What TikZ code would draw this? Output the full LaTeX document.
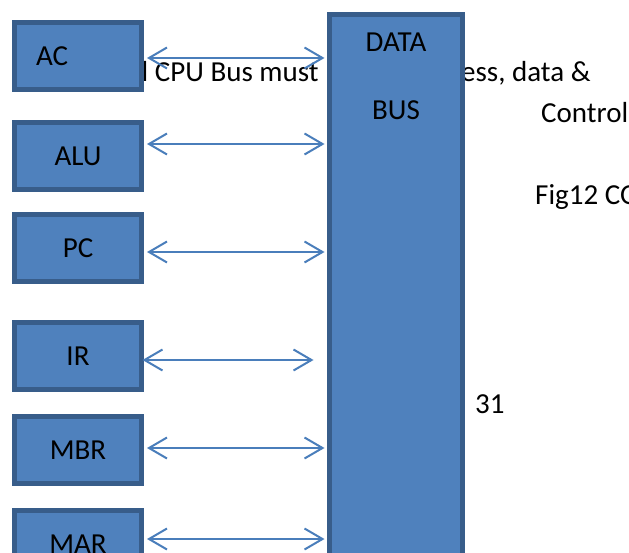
\documentclass[tikz,border=0pt]{standalone}
\usepackage{fontspec}
\setmainfont{Carlito}
\usetikzlibrary{arrows.meta,positioning,calc}
\definecolor{RegFill}{HTML}{4F81BD}
\definecolor{RegEdge}{HTML}{385D8A}
\definecolor{BusArrow}{HTML}{4A7EBB}

\begin{document}
\begin{tikzpicture}[x=1pt,y=-1pt,font=\fontsize{29}{35}\selectfont]
    \tikzset{regbox/.style={rectangle,fill=RegFill,draw=RegEdge,line width=5pt,inner sep=0pt,
      minimum width=127pt,minimum height=67pt,align=center},
      busbar/.style={rectangle,fill=RegFill,draw=RegEdge,line width=5pt,inner sep=0pt,
      minimum width=133pt,minimum height=620pt},
      busline/.style={{Straight Barb[length=18pt,width=21pt]}-{Straight Barb[length=18pt,width=21pt]},
      BusArrow,line width=2pt,shorten <=3pt,shorten >=2.5pt},
      note/.style={anchor=base west,inner sep=0pt}}
    \useasboundingbox (0,0) rectangle (629,553);
    \clip (0,0) rectangle (629,553);
    % text that sits behind the boxes
    \node[note] (t1) at (141.5,82) {l CPU Bus must};
    \node[note] (t2) at (461,82) {ess, data \&};
    \node[note] (t3) at (541,123) {Control};
    \node[note] (t4) at (535,205) {Fig12 CO};
    \node[note] (t5) at (475,413) {31};
    % registers
    \node[regbox,text width=84pt,align=left] (ac) at (78,56) {AC};
    \node[regbox] (alu) at (78,156) {ALU};
    \node[regbox] (pc) at (78,248) {PC};
    \node[regbox] (ir) at (78,356) {IR};
    \node[regbox] (mbr) at (78,450) {MBR};
    \node[regbox] (mar) at (78,544) {MAR};
    % bus
    \node[busbar,anchor=north] (bus) at (396,12.5) {};
    \node[anchor=base] (data) at (396,52) {DATA};
    \node[anchor=base] (buslbl) at (396,120) {BUS};
    % connections
    \draw[busline] ([yshift=-2pt]ac.east) -- ([yshift=-2pt]ac.east -| bus.west);
    \draw[busline] ([yshift=12pt]alu.east) -- ([yshift=12pt]alu.east -| bus.west);
    \draw[busline] ([yshift=-4pt]pc.east) -- ([yshift=-4pt]pc.east -| bus.west);
    \draw[busline,shorten <=-1.5pt,shorten >=13.5pt] ([yshift=-4pt]ir.east) -- ([yshift=-4pt]ir.east -| bus.west);
    \draw[busline] ([yshift=2pt]mbr.east) -- ([yshift=2pt]mbr.east -| bus.west);
    \draw[busline] ([yshift=5pt]mar.east) -- ([yshift=5pt]mar.east -| bus.west);
\end{tikzpicture}
\end{document}
